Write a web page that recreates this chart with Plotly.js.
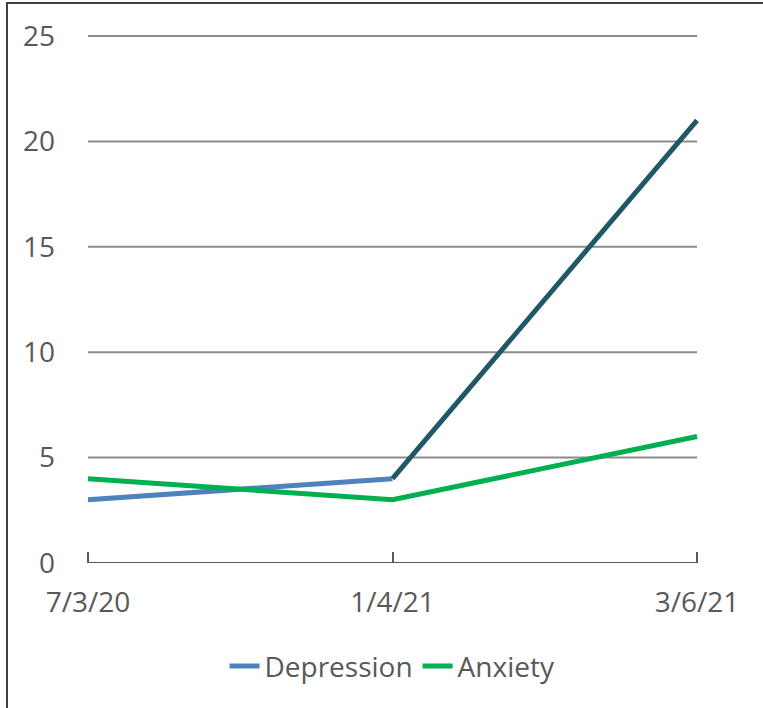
<!DOCTYPE html>
<html>
<head>
<meta charset="utf-8">
<script src="https://cdn.plot.ly/plotly-3.0.1.min.js"></script>
<style>
html,body{margin:0;padding:0;background:#fff;overflow:hidden;}
#wrap{position:relative;width:763px;height:708px;}
#chart{position:absolute;left:0;top:0;width:763px;height:708px;}
#frame{position:absolute;left:6px;top:2px;width:800px;height:800px;border-left:2px solid #404040;border-top:2px solid #404040;pointer-events:none;}
</style>
</head>
<body>
<div id="wrap"><div id="chart"></div><div id="frame"></div></div>
<script>
const dates = ["7/3/20", "1/4/21", "3/6/21"];
const depression = [3, 4, 21];
const anxiety = [4, 3, 6];
const yTicks = [0, 5, 10, 15, 20, 25];

const FONT = "Open Sans, Noto Sans, sans-serif";
const TXT = "#595959";
const FS = 28;

// Depression split: first segment blue, last segment dark teal
const depFirst = depression.map((v, i) => (i <= 1 ? v : null));
const depLast = depression.map((v, i) => (i >= 1 ? v : null));

const traces = [
  {x: dates, y: depFirst, type: "scatter", mode: "lines", name: "Depression",
   line: {color: "#4F81BD", width: 5}, connectgaps: false, cliponaxis: false},
  {x: dates, y: depLast, type: "scatter", mode: "lines", name: "Depression",
   line: {color: "#215868", width: 5}, showlegend: false, connectgaps: false, cliponaxis: false},
  {x: dates, y: anxiety, type: "scatter", mode: "lines", name: "Anxiety",
   line: {color: "#00B050", width: 5}, cliponaxis: false}
];

// gridlines (and the 0 axis line) spanning first to last category
const gridShapes = yTicks.map(v => ({
  type: "line", xref: "x", yref: "y",
  x0: dates[0], x1: dates[dates.length - 1], y0: v, y1: v,
  line: {color: v === 0 ? "#595959" : "#8C8C8C", width: 2}, layer: "below"
}));

const layout = {
  width: 763, height: 708,
  margin: {l: 85, r: 63, t: 33, b: 145},
  paper_bgcolor: "#fff", plot_bgcolor: "#fff",
  font: {family: FONT, color: TXT, size: FS},
  showlegend: true,
  legend: {orientation: "h", x: 0.5, xanchor: "center", y: -0.195, yanchor: "middle",
           font: {family: FONT, size: FS, color: TXT}, traceorder: "normal"},
  xaxis: {type: "category", range: [-0.00985, 2.00985], showgrid: false, showline: false,
          ticks: "inside", ticklen: 11,
          tickwidth: 2, tickcolor: "#595959", ticklabelstandoff: 20,
          tickfont: {family: FONT, size: FS, color: TXT}, zeroline: false, fixedrange: true},
  yaxis: {range: [0, 25.142], tickvals: yTicks, showgrid: false, showline: false,
          zeroline: false, ticks: "",
          ticklabelstandoff: 29, tickfont: {family: FONT, size: FS, color: TXT}, fixedrange: true},
  shapes: gridShapes
};

Plotly.newPlot("chart", traces, layout, {displayModeBar: false, staticPlot: true});
</script>
</body>
</html>
